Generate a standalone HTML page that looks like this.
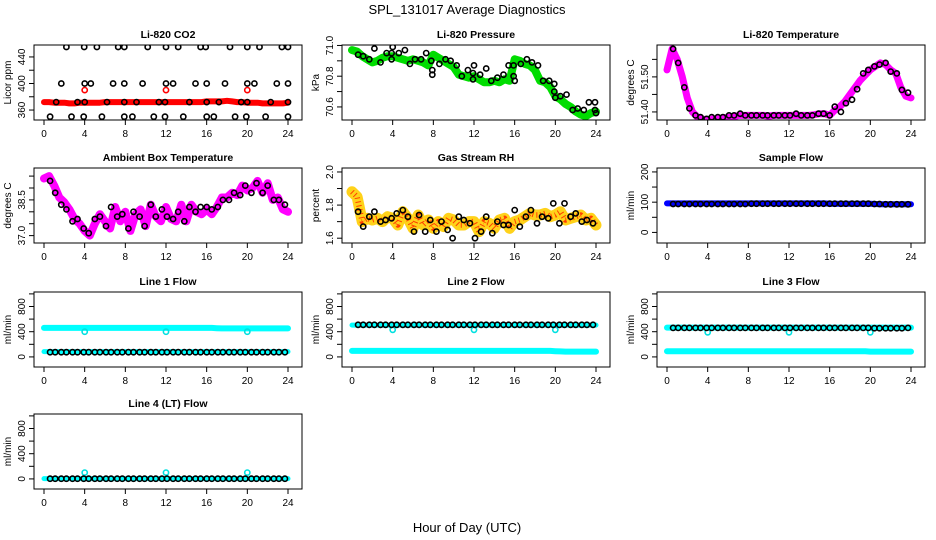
<!DOCTYPE html>
<html><head><meta charset="utf-8"><title>SPL_131017 Average Diagnostics</title>
<style>
html,body{margin:0;padding:0;background:#fff;}
svg{display:block;font-family:"Liberation Sans",Arial,sans-serif;}
</style></head>
<body>
<svg id="chart" width="936" height="540" viewBox="0 0 936 540">
<rect x="0" y="0" width="936" height="540" fill="#fff"/>
<text x="467" y="14" font-size="13" text-anchor="middle">SPL_131017  Average Diagnostics</text>
<text x="467" y="532" font-size="13" text-anchor="middle">Hour of Day (UTC)</text>
</svg>
<script>
// ---------- data ----------
const HALF_HOURS = [0,0.5,1,1.5,2,2.5,3,3.5,4,4.5,5,5.5,6,6.5,7,7.5,8,8.5,9,9.5,10,10.5,11,11.5,12,12.5,13,13.5,14,14.5,15,15.5,16,16.5,17,17.5,18,18.5,19,19.5,20,20.5,21,21.5,22,22.5,23,23.5,24];
const HOURS = [0.6,1.1,1.7,2.2,2.8,3.3,3.9,4.4,5.0,5.5,6.1,6.6,7.2,7.7,8.3,8.8,9.4,9.9,10.5,11.0,11.6,12.1,12.7,13.2,13.8,14.3,14.9,15.4,16.0,16.5,17.1,17.6,18.2,18.7,19.3,19.8,20.4,20.9,21.5,22.0,22.6,23.1,23.7];
const X_TICKS = [0,4,8,12,16,20,24];
const CAL_HOURS = [4,12,20];

// CO2
const co2Band = [372,372,371,371,371,370,370,371,371,371,371,371,372,372,372,372,372,372,372,372,372,372,372,372,372,372,372,372,372,372,372,372,373,373,373,373,374,373,372,372,371,371,371,370,370,370,370,370,371];
const co2Cal = [390,390,390];
const co2Hours = [2.2,3.95,5.2,7.3,7.9,10.2,12,13.2,15.4,15.9,18.3,20,21.2,23.4,24, 1.7,4,4.6,6.8,7.9,9.7,12,12.7,14.9,16,17.8,20,20.7,22.9,24, 1.2,3.3,4,6.2,7.9,9.1,11.3,11.9,14.3,16,17.2,19.4,20,22.3,24, 0.6,2.7,3.9,5.7,7.9,8.7,10.8,11.9,13.7,16,16.7,18.8,19.9,21.8,24];
const co2Values = [455,455,455,455,455,455,455,455,455,455,455,455,455,455,455, 400,400,400,400,400,400,400,400,400,400,400,400,400,400,400, 372,372,372,372,372,372,372,372,372,372,372,372,372,372,372, 350,350,350,350,350,350,350,350,350,350,350,350,350,350,350];

// Pressure
const presBand = [70.97,70.96,70.93,70.91,70.89,70.90,70.92,70.93,70.93,70.92,70.91,70.90,70.91,70.90,70.89,70.87,70.94,70.92,70.90,70.88,70.86,70.81,70.80,70.79,70.80,70.78,70.76,70.76,70.77,70.76,70.78,70.77,70.91,70.90,70.88,70.87,70.84,70.77,70.76,70.73,70.67,70.65,70.62,70.60,70.57,70.55,70.54,70.56,70.57];
const presHours = [0.6,1.1,1.7,2.2,2.8,3.4,3.9,4.0,3.9,4.6,5.2,5.7,6.2,6.8,7.3,7.8,7.9,7.9,8.6,9.2,9.7,10.3,10.8,11.4,11.9,12.0,11.9,12.6,13.2,13.7,14.3,14.9,15.4,15.9,15.9,16.0,16.6,17.2,17.7,18.3,18.8,19.4,19.9,19.9,20.0,20.5,21.1,21.7,22.2,22.8,23.3,23.9,23.9,24.0];
const presValues = [70.94,70.93,70.91,70.98,70.89,70.95,70.95,70.99,70.91,70.95,70.97,70.88,70.91,70.91,70.95,70.90,70.84,70.81,70.88,70.91,70.90,70.87,70.80,70.84,70.82,70.87,70.78,70.81,70.85,70.77,70.79,70.81,70.87,70.87,70.80,70.77,70.88,70.91,70.89,70.87,70.77,70.77,70.75,70.70,70.66,70.67,70.68,70.58,70.59,70.58,70.63,70.63,70.58,70.56];

// Li-820 temperature
const tempBand = [51.52,51.58,51.55,51.50,51.44,51.40,51.385,51.38,51.375,51.38,51.38,51.383,51.385,51.385,51.39,51.39,51.39,51.39,51.39,51.39,51.388,51.39,51.39,51.39,51.39,51.39,51.39,51.39,51.39,51.392,51.395,51.395,51.39,51.405,51.415,51.43,51.45,51.47,51.49,51.505,51.52,51.53,51.54,51.535,51.52,51.51,51.47,51.445,51.44];
const tempValues = [51.58,51.54,51.47,51.41,51.39,51.385,51.38,51.385,51.385,51.385,51.39,51.39,51.395,51.39,51.39,51.39,51.39,51.39,51.39,51.39,51.39,51.39,51.395,51.39,51.39,51.39,51.395,51.395,51.39,51.415,51.40,51.425,51.435,51.465,51.51,51.52,51.53,51.535,51.54,51.515,51.51,51.463,51.455];

// Ambient box temperature
const ambBand = [39.4,39.5,39.1,38.6,38.4,38.1,37.7,37.5,37.2,37.0,37.5,37.9,37.6,37.3,38.2,37.6,38.0,37.2,37.9,38.1,37.4,38.3,37.8,37.6,38.2,37.7,37.6,38.3,37.6,38.3,38.0,37.9,38.1,37.9,38.2,38.6,38.6,38.8,38.7,39.1,38.9,39.0,39.3,38.8,39.2,38.5,38.6,38.1,38.0];
const ambValues = [39.3,38.8,38.3,38.1,37.6,37.7,37.3,37.1,37.7,37.8,37.4,38.2,37.8,37.9,37.3,38.0,37.8,37.4,38.3,37.8,38.1,37.8,37.7,38.0,37.6,38.2,38.0,38.2,38.2,38.1,38.2,38.5,38.5,38.8,38.7,39.1,38.8,39.2,38.8,39.1,38.5,38.5,38.3];

// Gas stream RH
const rhBand = [1.88,1.85,1.70,1.72,1.71,1.72,1.70,1.73,1.72,1.68,1.76,1.72,1.66,1.74,1.68,1.71,1.66,1.70,1.67,1.72,1.71,1.68,1.68,1.70,1.70,1.64,1.70,1.69,1.66,1.71,1.72,1.66,1.70,1.71,1.73,1.75,1.74,1.74,1.75,1.73,1.74,1.76,1.71,1.72,1.73,1.74,1.71,1.72,1.68];
const rhValues = [1.76,1.67,1.73,1.76,1.70,1.71,1.72,1.75,1.77,1.73,1.64,1.74,1.64,1.71,1.64,1.70,1.65,1.60,1.73,1.71,1.69,1.60,1.64,1.73,1.63,1.70,1.68,1.68,1.77,1.67,1.73,1.77,1.69,1.73,1.72,1.81,1.69,1.81,1.73,1.75,1.70,1.71,1.69];

// Sample flow
const sampleBand = [96,96,96,96,96,96,96,96,96,96,96,96,96,96,96,96,96,96,96,96,96,96,96,96,96,96,96,96,96,96,96,96,95,95,95,95,95,95,95,95,95,94,93,93,93,93,93,93,93];
const sampleValues = [94,94,94,94,94,94,94,94,94,94,94,94,94,94,95,95,95,95,95,95,95,95,95,95,95,95,95,95,95,95,95,95,95,95,95,95,94,94,93,93,93,93,93];

// Line 1 flow
const l1Upper = [460,460,460,460,460,460,460,460,460,460,460,460,460,460,460,460,460,460,460,460,460,460,460,460,460,460,460,460,460,460,460,460,460,460,455,452,452,452,452,452,452,452,452,452,452,452,452,452,452];
const l1Lower = [85,85,85,85,85,85,85,85,85,85,85,85,85,85,85,85,85,85,85,85,85,85,85,85,85,85,85,85,85,85,85,85,85,85,85,85,85,85,85,85,85,85,85,85,85,85,85,85,85];
const l1Cal = [400,400,400];
const l1Values = [75,75,75,75,75,75,75,75,75,75,75,75,75,75,75,75,75,75,75,75,75,75,75,75,75,75,75,75,75,75,75,75,75,75,75,75,75,75,75,75,75,75,75];

// Line 2 flow
const l2Upper = [505,505,505,505,505,505,505,505,505,505,505,505,505,505,505,505,505,505,505,505,505,505,505,505,505,505,505,505,505,505,505,505,505,505,505,505,505,505,505,505,505,505,505,505,505,505,505,505,505];
const l2Lower = [95,95,95,95,95,95,95,95,95,95,95,95,95,95,95,95,95,95,95,95,95,95,95,95,95,95,95,95,95,95,95,95,95,95,95,95,95,95,95,95,90,88,85,85,85,85,85,85,85];
const l2Cal = [430,430,430];
const l2Values = [510,510,510,510,510,510,510,510,510,510,510,510,510,510,510,510,510,510,510,510,510,510,510,510,510,510,510,510,510,510,510,510,510,510,510,510,510,510,510,510,510,510,510];

// Line 3 flow
const l3Upper = [465,465,465,465,465,465,465,465,465,465,465,465,465,465,465,465,465,465,465,465,465,465,465,465,465,465,465,465,465,465,465,465,465,465,465,465,465,465,465,465,465,465,465,465,465,465,465,465,465];
const l3Lower = [90,90,90,90,90,90,90,90,90,90,90,90,90,90,90,90,90,90,90,90,90,90,90,90,90,90,90,90,90,90,90,90,90,90,90,90,90,90,90,90,85,85,85,85,85,85,85,85,85];
const l3Cal = [390,390,390];
const l3Values = [460,460,460,460,460,460,460,460,460,460,460,460,460,460,460,460,460,460,460,460,460,460,460,460,460,460,460,460,460,460,460,460,460,460,460,460,455,455,455,455,455,455,460];

// Line 4 flow
const l4Band = [5,5,5,5,5,5,5,5,5,5,5,5,5,5,5,5,5,5,5,5,5,5,5,5,5,5,5,5,5,5,5,5,5,5,5,5,5,5,5,5,5,5,5,5,5,5,5,5,5];
const l4Cal = [100,100,100];
const l4Values = [3,3,3,3,3,3,3,3,3,3,3,3,3,3,3,3,3,3,3,3,3,3,3,3,3,3,3,3,3,3,3,3,3,3,3,3,3,3,3,3,3,3,3];

// ---------- drawing ----------
const NS = 'http://www.w3.org/2000/svg';
const svg = document.getElementById('chart');
const COLS = [34, 342, 657];
const ROWS = [45, 168, 292, 414];
const BW = 268, BH = 75;

function mk(tag, attrs, parent) {
  const e = document.createElementNS(NS, tag);
  for (const k in attrs) e.setAttribute(k, attrs[k]);
  (parent || svg).appendChild(e);
  return e;
}

function panel(cfg) {
  const left = COLS[cfg.col], top = ROWS[cfg.row];
  const g = mk('g', {});
  
  
  const xs = h => left + 10 + h * (244 / 24);
  const ys = v => top + BH - (v - cfg.ylim[0]) / (cfg.ylim[1] - cfg.ylim[0]) * BH;

  const clip = 'clip-' + cfg.name;
  const cp = mk('clipPath', { id: clip }, g);
  mk('rect', { x: left, y: top, width: BW, height: BH }, cp);
  const plot = mk('g', { 'clip-path': 'url(#' + clip + ')' }, g);
  
  

  (cfg.bands || []).forEach(b => {
    const pts = b.x.map((h, i) => xs(h).toFixed(1) + ',' + ys(b.y[i]).toFixed(1)).join(' ');
    const pl = mk('polyline', { points: pts, fill: 'none', stroke: b.color, 'stroke-width': b.w, 'stroke-linejoin': 'round', 'stroke-linecap': 'round' }, plot);
    
    
    if (b.dots) {
      const p2 = mk('polyline', { points: pts, fill: 'none', stroke: b.dots, 'stroke-width': b.w * 0.5, 'stroke-dasharray': '1 3', 'stroke-linejoin': 'round' }, plot);
      
      
    }
  });
  (cfg.points || []).forEach(p => {
    p.x.forEach((h, i) => {
      const c = mk('circle', { cx: xs(h).toFixed(1), cy: ys(p.y[i]).toFixed(1), r: p.r || 2.6, fill: 'none', stroke: p.color, 'stroke-width': 1.6 }, plot);
      
      
    });
  });

  const box = mk('rect', { x: left, y: top, width: BW, height: BH, fill: 'none', stroke: '#000', 'stroke-width': 1 }, g);
  
  

  const title = mk('text', { x: left + BW / 2, y: top - 7, 'font-size': 10.5, 'font-weight': 'bold', 'text-anchor': 'middle' }, g);
  title.textContent = cfg.title;
  
  

  X_TICKS.forEach(t => {
    const x = xs(t);
    const tk = mk('line', { x1: x, x2: x, y1: top + BH, y2: top + BH + 5, stroke: '#000' }, g);
    
    
    const lb = mk('text', { x: x, y: top + BH + 17, 'font-size': 10, 'text-anchor': 'middle' }, g);
    lb.textContent = t;
    
    
  });

  cfg.yticks.forEach(t => {
    const y = ys(t);
    const tk = mk('line', { x1: left - 5, x2: left, y1: y, y2: y, stroke: '#000' }, g);
    
    
  });
  cfg.ylabels.forEach(t => {
    const y = ys(t);
    const lb = mk('text', { x: 0, y: 0, 'font-size': 10, 'text-anchor': 'middle', transform: 'translate(' + (left - 9) + ',' + y.toFixed(1) + ') rotate(-90)' }, g);
    lb.textContent = cfg.fmt ? t.toFixed(cfg.fmt) : t;
    
    
  });
  const yt = mk('text', { x: 0, y: 0, 'font-size': 10, 'text-anchor': 'middle', transform: 'translate(' + (left - 23) + ',' + (top + BH / 2) + ') rotate(-90)' }, g);
  yt.textContent = cfg.ylab;
  
  
}

const flowTicks = [0, 200, 400, 600, 800, 1000];
const flowLabels = [0, 400, 800];
const flowLim = [-160, 1030];

panel({ name: 'co2-panel', col: 0, row: 0, title: 'Li-820 CO2', ylab: 'Licor ppm', ylim: [345, 458],
  yticks: [360, 380, 400, 420, 440], ylabels: [360, 400, 440],
  bands: [{ x: HALF_HOURS, y: co2Band, color: '#ff0000', w: 6 }],
  points: [{ x: CAL_HOURS, y: co2Cal, color: '#ff0000' }, { x: co2Hours, y: co2Values, color: '#000' }] });

panel({ name: 'pressure-panel', col: 1, row: 0, title: 'Li-820 Pressure', ylab: 'kPa', ylim: [70.515, 71.003], fmt: 1,
  yticks: [70.6, 70.7, 70.8, 70.9, 71.0], ylabels: [70.6, 70.8, 71.0],
  bands: [{ x: HALF_HOURS, y: presBand, color: '#00dd00', w: 8 }],
  points: [{ x: presHours, y: presValues, color: '#000' }] });

panel({ name: 'temperature-panel', col: 2, row: 0, title: 'Li-820 Temperature', ylab: 'degrees C', ylim: [51.377, 51.591], fmt: 2,
  yticks: [51.40, 51.45, 51.50, 51.55], ylabels: [51.40, 51.50],
  bands: [{ x: HALF_HOURS, y: tempBand, color: '#ff00ff', w: 7 }],
  points: [{ x: HOURS, y: tempValues, color: '#000' }] });

panel({ name: 'ambient-temp-panel', col: 0, row: 1, title: 'Ambient Box Temperature', ylab: 'degrees C', ylim: [36.69, 39.84], fmt: 1,
  yticks: [37.0, 37.5, 38.0, 38.5, 39.0, 39.5], ylabels: [37.0, 38.5],
  bands: [{ x: HALF_HOURS, y: ambBand, color: '#ff00ff', w: 8 }],
  points: [{ x: HOURS, y: ambValues, color: '#000' }] });

panel({ name: 'rh-panel', col: 1, row: 1, title: 'Gas Stream RH', ylab: 'percent', ylim: [1.571, 2.024], fmt: 1,
  yticks: [1.6, 1.7, 1.8, 1.9, 2.0], ylabels: [1.6, 1.8, 2.0],
  bands: [{ x: HALF_HOURS, y: rhBand, color: '#ffd21a', w: 11, dots: '#ff4000' }],
  points: [{ x: HOURS, y: rhValues, color: '#000' }] });

panel({ name: 'sample-flow-panel', col: 2, row: 1, title: 'Sample Flow', ylab: 'ml/min', ylim: [-35, 213],
  yticks: [0, 50, 100, 150, 200], ylabels: [0, 100, 200],
  bands: [{ x: HALF_HOURS, y: sampleBand, color: '#0000ff', w: 6 }],
  points: [{ x: HOURS, y: sampleValues, color: '#000' }] });

panel({ name: 'line1-flow-panel', col: 0, row: 2, title: 'Line 1 Flow', ylab: 'ml/min', ylim: flowLim,
  yticks: flowTicks, ylabels: flowLabels,
  bands: [{ x: HALF_HOURS, y: l1Upper, color: '#00ffff', w: 6 }, { x: HALF_HOURS, y: l1Lower, color: '#00ffff', w: 5 }],
  points: [{ x: CAL_HOURS, y: l1Cal, color: '#00e0e0' }, { x: HOURS, y: l1Values, color: '#000' }] });

panel({ name: 'line2-flow-panel', col: 1, row: 2, title: 'Line 2 Flow', ylab: 'ml/min', ylim: flowLim,
  yticks: flowTicks, ylabels: flowLabels,
  bands: [{ x: HALF_HOURS, y: l2Upper, color: '#00ffff', w: 5 }, { x: HALF_HOURS, y: l2Lower, color: '#00ffff', w: 6 }],
  points: [{ x: CAL_HOURS, y: l2Cal, color: '#00e0e0' }, { x: HOURS, y: l2Values, color: '#000' }] });

panel({ name: 'line3-flow-panel', col: 2, row: 2, title: 'Line 3 Flow', ylab: 'ml/min', ylim: flowLim,
  yticks: flowTicks, ylabels: flowLabels,
  bands: [{ x: HALF_HOURS, y: l3Upper, color: '#00ffff', w: 6 }, { x: HALF_HOURS, y: l3Lower, color: '#00ffff', w: 6 }],
  points: [{ x: CAL_HOURS, y: l3Cal, color: '#00e0e0' }, { x: HOURS, y: l3Values, color: '#000' }] });

panel({ name: 'line4-flow-panel', col: 0, row: 3, title: 'Line 4 (LT) Flow', ylab: 'ml/min', ylim: flowLim,
  yticks: flowTicks, ylabels: flowLabels,
  bands: [{ x: HALF_HOURS, y: l4Band, color: '#00ffff', w: 5 }],
  points: [{ x: CAL_HOURS, y: l4Cal, color: '#00e0e0' }, { x: HOURS, y: l4Values, color: '#000' }] });
</script>
</body></html>
